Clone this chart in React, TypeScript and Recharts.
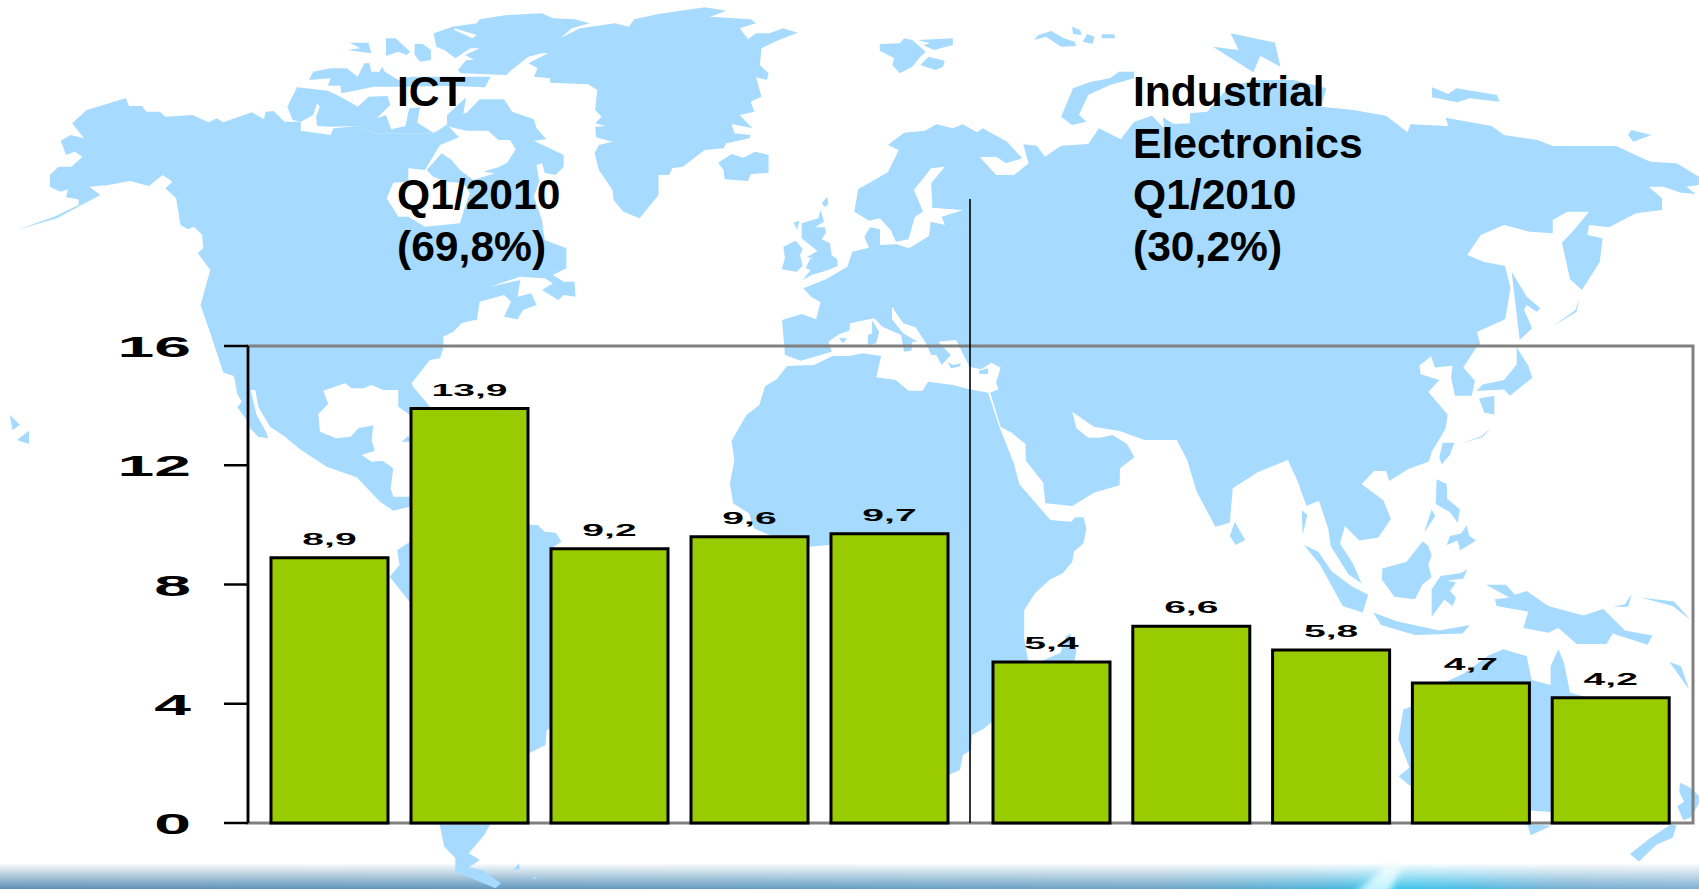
import { BarChart, Bar, XAxis, YAxis, LabelList } from 'recharts';

const ictLabels = ['I1', 'I2', 'I3', 'I4', 'I5'];
const ictValues = [8.9, 13.9, 9.2, 9.6, 9.7];
const industrialLabels = ['E1', 'E2', 'E3', 'E4', 'E5'];
const industrialValues = [5.4, 6.6, 5.8, 4.7, 4.2];
const yTicks = [0, 4, 8, 12, 16];
const ictTitle = ['ICT', '', 'Q1/2010', '(69,8%)'];
const industrialTitle = ['Industrial', 'Electronics', 'Q1/2010', '(30,2%)'];

const ictData = ictLabels.map((name, i) => ({ name, value: ictValues[i] }));
const industrialData = industrialLabels.map((name, i) => ({ name, value: industrialValues[i] }));

const LAND = '#a6dbff';
const FONT = '"Liberation Sans", Arial, sans-serif';

// backdrop map, traced by hand. each group has its own scale so the outlines stay readable
const northAmerica = [
  '30,690 105,655 185,585 165,560 195,555 210,520 190,558 240,543 275,558 300,525 318,545 305,565 325,595 333,675 347,688 358,680 373,705 375,745 365,760 388,810 370,915 385,985 835,985 850,965 880,960 885,905 930,885 943,905 930,950 955,958 965,930 990,915 980,880 955,890 960,840 905,860 960,830 1005,835 1020,850 1000,870 1030,900 1040,885 1062,890 1060,845 1040,845 1020,825 1045,805 1045,745 1005,720 1000,660 985,590 995,545 990,495 1000,490 1005,518 1025,525 1040,500 1040,465 985,422 1008,418 990,385 985,358 945,335 930,298 885,298 860,340 825,345 825,375 800,400 690,400 660,378 615,385 610,405 555,392 555,365 525,365 505,333 490,335 487,358 465,337 412,367 400,355 385,367 355,345 305,350 295,335 270,335 262,318 238,318 232,295 160,330 133,370 155,415 130,405 112,422 122,465 138,455 152,470 132,500 108,500 92,525 92,560 112,575 125,568 122,592 145,598 145,615 100,650',
  '800,100 835,80 880,70 885,58 935,45 1000,40 1020,55 1060,58 1088,70 1055,85 1030,120 1040,145 1020,160 1000,160 975,170 940,215 935,225 850,220 845,210 860,180 875,180 858,165 885,145 868,145 840,175 820,150 805,140',
  '645,128 680,128 685,160 640,150 665,145',
  '712,115 730,115 757,155 750,165 735,155 712,168',
  '765,132 780,132 795,150 795,180 775,185 765,165',
  '570,240 578,215 610,205 640,205 660,230 672,190 682,190 685,215 700,215 705,200 710,215 735,240 760,230 905,230 895,262 830,258 735,260 690,260 630,280 628,257 605,257 610,235',
  '530,320 548,262 605,272 628,290 645,305 660,320 680,290 715,288 720,315 695,355 712,345 722,388 748,378 755,325 775,322 770,368 800,398 825,375 825,345 860,292 855,340 800,400 690,400 660,378 610,380 585,378 583,350 590,320 585,310 578,345 555,365 540,360',
  '975,190 1005,165 1035,140 1020,125 1070,85 1135,70 1160,80 1170,58 1215,42 1300,22 1340,32 1310,50 1385,58 1395,70 1365,85 1380,118 1395,100 1420,100 1445,85 1472,98 1437,120 1405,145 1402,195 1418,220 1415,240 1395,232 1405,290 1385,305 1392,335 1365,345 1388,385 1350,372 1355,400 1385,405 1383,415 1340,430 1335,445 1300,450 1260,500 1240,505 1235,525 1215,525 1215,585 1180,655 1150,635 1132,600 1130,570 1105,510 1097,460 1105,435 1130,425 1100,412 1098,380 1118,378 1098,370 1110,350 1098,330 1102,270 1085,253 1015,248 1015,235 985,230 992,205',
  '1325,488 1350,462 1372,473 1393,455 1418,465 1418,518 1385,523 1380,543 1337,538 1335,510',
];
const arcticSlit = ['838,85 880,105 872,115 838,90'];
const hudsonBay = [
  '210,255 267,232 237,200 290,212 355,212 385,240 420,240 437,268 412,308 385,322 340,335 375,340 310,360 270,330 245,300 215,280 170,330 190,350 230,365 280,370 300,400 285,440 270,490 165,500 115,470 85,470 50,415 70,368 115,365 115,325 165,330',
];
const centralAmerica = [
  '318,0 370,158 402,168 412,222 425,245 412,262 440,300 450,325 475,350 505,355 498,335 470,285 452,210 466,210 475,260 510,320 555,350 600,388 680,440 770,472 840,545 880,572 930,560 930,530 880,530 872,505 880,445 848,422 815,425 785,405 825,392 815,362 820,316 775,325 752,350 708,355 660,335 655,282 685,252 670,212 735,190 755,205 790,205 815,195 850,210 895,210 895,260 930,285 945,265 990,260 940,200 935,190 990,120 1020,115 1030,85 1030,50 1060,35 1085,10 1120,0',
  '905,365 925,347 935,365',
];
const southAmerica = [
  '890,510 925,480 1100,432 1205,435 1220,455 1245,458 1258,485 1235,505 1235,1045 1225,1050 1222,1095 1185,1120 1085,1365 1050,1420 1075,1440 1050,1462 1080,1470 1122,1510 1110,1525 1020,1475 1020,1435 995,1400 985,1335 920,670 873,590 895,555',
  '1150,1470 1162,1450 1165,1468',
  '1190,1498 1200,1488 1203,1498',
  '22,105 45,135 28,150',
  '38,180 65,152 65,192',
];
const westEurope = [
  '130,325 198,298 262,260 277,215 327,203 313,170 330,142 360,148 360,195 410,193 447,205 507,168 512,125 555,135 545,110 610,90 517,82 520,0 900,0 900,365 180,365 155,352',
  '125,130 175,115 182,90 192,125 165,142 195,142 198,158 185,178 210,190 215,225 232,238 233,258 198,272 155,285 128,300 152,270 137,265 150,237 160,235 140,232 172,213 125,175',
  '70,200 107,182 128,207 120,225 128,257 110,275 65,268 75,235',
  '100,128 118,122 112,150',
  '185,70 202,50 205,72 195,82',
];
const africaEurope = [
  '210,198 275,195 320,168 360,168 392,160 437,168 425,232 472,240 503,272 537,272 550,245 610,255 650,268 695,278 722,380 757,490 770,552 845,660 895,665 905,652 925,652 932,685 925,730 902,755 898,785 875,820 845,838 808,880 782,930 782,1015 792,1085 704,1266 683,1287 656,1305 654,1350 634,1365 627,1410 600,1425 313,735 262,740 163,703 130,685 118,640 80,610 72,550 83,482 76,422 112,345 143,315 157,258 185,238',
  '825,1082 870,1058 882,1010 893,1000 908,1050 903,1085',
  '198,60 205,165 243,182 318,155 310,125 335,103 360,92 362,70 420,55 440,80 485,105 492,155 510,152 512,125 525,125 490,100 463,58 463,20 490,70 520,82 545,130 558,165 570,165 583,195 605,165 575,125 618,120 650,200 678,208 703,188 725,203 714,248 720,268 700,278 725,380 750,397 785,432 786,482 828,548 833,610 898,618 950,578 1012,556 1013,505 1048,472 1030,432 995,405 965,413 937,413 908,385 898,335 950,380 1012,393 1072,420 1150,420 1175,480 1198,575 1243,680 1278,668 1285,565 1345,517 1418,480 1442,545 1463,618 1568,560 1568,0 290,0 290,10 280,58 245,42',
  '415,60 432,95 425,130 405,135 405,105 415,100',
  '335,115 355,115 345,130',
  '597,185 610,195 630,190 625,200 605,205',
  '672,212 695,205 695,222 675,222',
  '1290,665 1315,720 1292,735 1278,708',
];
const eurasia = [
  '210,630 152,623 150,550 175,500 150,505 118,570 135,635 120,650 108,718 85,725 75,690 55,655 35,662 8,635 15,568 70,517 90,450 70,435 100,398 138,392 160,373 190,385 208,373 235,397 245,385 290,425 318,475 288,490 270,470 240,472 270,525 303,525 330,490 320,433 345,437 360,470 390,437 440,432 460,385 500,418 525,365 558,347 580,385 578,352 598,372 628,370 628,340 660,335 700,260 750,240 820,240 880,265 870,320 930,330 990,347 1030,397 1035,373 1105,378 1100,353 1185,378 1208,405 1270,420 1298,438 1415,438 1478,485 1527,490 1568,530 1568,555 1545,560 1562,582 1535,578 1502,560 1475,560 1500,595 1500,630 1452,640 1402,682 1365,675 1362,705 1390,715 1385,785 1352,870 1330,838 1315,728 1340,685 1365,635 1325,635 1298,660 1298,700 1255,695 1208,675 1165,705 1140,765 1170,785 1210,798 1220,865 1210,958 1158,995 1165,1040 831,1040 831,900 300,900',
  '55,132 92,130 100,115 115,120 140,155 130,170 115,200 92,220 78,195 82,175 55,152',
  '125,120 190,115 190,135 155,150 135,135 148,130',
  '130,195 145,170 175,182 172,200 158,210',
  '340,120 348,105 372,93 395,115 415,125 418,138 390,140 362,110',
  '410,80 425,90 428,105 412,102',
  '430,125 438,102 452,110 448,132',
  '465,103 488,103 490,115 465,115',
  '390,350 412,265 445,245 480,235 497,215 525,215 525,235 480,255 440,285 423,345 437,365 410,375',
  '670,140 718,150 703,100 785,128 795,200 758,168 745,217',
  '1075,262 1105,282 1120,265 1195,285 1200,305 1145,295 1122,307 1075,292',
  '1437,405 1443,390 1480,405 1447,425',
  '1222,815 1250,890 1275,925 1268,935 1250,915 1245,930 1260,985 1237,1020',
  '1297,980 1340,930 1347,895 1342,935',
];
const eastAsiaOceania = [
  '0,0 625,0 615,50 530,85 538,115 530,125 490,180 525,215 515,255 465,255 453,205 458,175 405,180 393,150 358,175 362,198 418,213 385,245 443,305 437,342 395,405 387,430 325,450 268,482 258,455 222,455 185,490 250,533 273,583 235,632 178,640 135,602 120,648 158,700 185,755 145,730 92,655 85,610 57,535 20,545 0,500',
  '12,652 55,670 95,722 155,762 205,785 188,832 128,815 60,705',
  '5,560 22,572 8,625',
  '220,832 290,855 418,880 510,865 488,888 345,892 243,865',
  '247,715 320,697 368,642 385,655 395,680 385,705 395,738 368,757 345,797 283,790 246,745',
  '395,770 422,735 483,727 502,717 490,742 440,747 468,752 450,775 468,792 458,815 433,798 395,843',
  '410,477 440,490 442,530 480,558 473,593 450,565 407,543',
  '372,620 395,558 406,575',
  '440,652 450,628 483,622 500,600 508,628 528,640 480,667 473,640',
  '428,380 463,380 450,412 425,438 418,420',
  '485,382 545,362 575,338 548,365',
  '650,125 685,175 697,207 630,255 612,238 530,242 548,225 612,213 650,172',
  '537,262 583,255 583,305 553,300',
  '558,758 618,758 645,785 680,775 745,815 850,840 910,823 975,880 1057,893 1043,918 938,888 920,916 830,916 775,873 745,886 670,873 685,830 590,815 585,797 628,792',
  '938,817 975,810 995,782 985,817',
  '1022,792 1122,803 1172,852 1118,815',
  '1108,963 1143,975 1168,1038',
  '296,1268 328,1245 295,1168 310,1090 340,1080 435,1018 490,995 568,945 610,930 680,948 695,1012 752,1025 752,975 775,930 792,965 810,1045 870,1060 1000,1100 1112,1385 700,1360 340,1295 325,1290',
  '682,1395 755,1400 692,1425',
  '1140,1285 1170,1298 1197,1320 1197,1340 1172,1378 1150,1385 1132,1348 1152,1335 1138,1310',
  '990,1475 1055,1430 1115,1395 1130,1400 1118,1432 1070,1450 1017,1495',
];

function Land({ shapes, transform, fill = LAND }: { shapes: string[]; transform: string; fill?: string }) {
  return (
    <g transform={transform} fill={fill}>
      {shapes.map((points, i) => (
        <polygon key={i} points={points} />
      ))}
    </g>
  );
}

function Backdrop() {
  return (
    <svg width={1699} height={889} style={{ position: 'absolute', left: 0, top: 0 }}>
      <defs>
        <linearGradient id="bandColor" x1="0" x2="1" y1="0" y2="0">
          <stop offset="0" stopColor="#5d8fb5" />
          <stop offset="0.5" stopColor="#659fc4" />
          <stop offset="0.68" stopColor="#6ea4c6" />
          <stop offset="0.78" stopColor="#4fb2da" />
          <stop offset="0.82" stopColor="#3cc6ec" />
          <stop offset="0.86" stopColor="#4cbde6" />
          <stop offset="0.92" stopColor="#74aed2" />
          <stop offset="1" stopColor="#7fb0d2" />
        </linearGradient>
        <linearGradient id="bandFade" x1="0" x2="0" y1="0" y2="1">
          <stop offset="0" stopColor="#ffffff" stopOpacity="1" />
          <stop offset="1" stopColor="#ffffff" stopOpacity="0" />
        </linearGradient>
        <filter id="soften" x="-30%" y="-30%" width="160%" height="160%">
          <feGaussianBlur stdDeviation="3" />
        </filter>
      </defs>
      <rect x={0} y={864} width={1699} height={25} fill="url(#bandColor)" />
      <polygon points="1353,895 1388,895 1402,866 1386,866" fill="#c4f3fc" filter="url(#soften)" />
      <rect x={0} y={863} width={1699} height={26} fill="url(#bandFade)" />
      <Land shapes={northAmerica} transform="scale(0.542,0.3333)" />
      <Land shapes={arcticSlit} transform="scale(0.542,0.3333)" fill="#ffffff" />
      <Land shapes={hudsonBay} transform="translate(370,60) scale(0.3333)" fill="#ffffff" />
      <Land shapes={centralAmerica} transform="translate(100,320) scale(0.3333)" />
      <Land shapes={southAmerica} transform="translate(0,380) scale(0.4464,0.3333)" />
      <Land shapes={westEurope} transform="translate(760,180) scale(0.3333)" />
      <Land shapes={africaEurope} transform="translate(700,300) scale(0.4146,0.3333)" />
      <Land shapes={eurasia} transform="translate(850,0) scale(0.5414,0.3333)" />
      <Land shapes={eastAsiaOceania} transform="translate(1300,300) scale(0.3333,0.3756)" />
      <rect x={248} y={346} width={1445} height={477} fill="none" stroke="#808080" strokeWidth={3} />
      <line x1={970} x2={970} y1={199} y2={823} stroke="#000000" strokeWidth={1.6} />
    </svg>
  );
}

function Titles() {
  const lineY = [106, 158, 209, 261];
  return (
    <svg width={1699} height={889} style={{ position: 'absolute', left: 0, top: 0, pointerEvents: 'none' }}>
      <g fontFamily={FONT} fontWeight="bold" fontSize={42.6} fill="#000000">
        {ictTitle.map((line, i) => (
          <text key={i} x={397} y={lineY[i]}>{line}</text>
        ))}
        {industrialTitle.map((line, i) => (
          <text key={i} x={1133} y={lineY[i]}>{line}</text>
        ))}
      </g>
    </svg>
  );
}

// tick numbers in the slide are stretched sideways, so they get a horizontal scale
const StretchedTick = ({ x, y, payload }: any) => (
  <text
    transform={`translate(${x},${y + 11}) scale(2.2,1)`}
    textAnchor="end"
    fontFamily={FONT}
    fontWeight="bold"
    fontSize={30}
    fill="#000000"
  >
    {payload.value}
  </text>
);

const ValueLabel = ({ x, y, width, value }: any) => (
  <text
    transform={`translate(${x + width / 2},${y - 13}) scale(2.3,1)`}
    textAnchor="middle"
    fontFamily={FONT}
    fontWeight="bold"
    fontSize={17}
    fill="#000000"
  >
    {String(value).replace('.', ',')}
  </text>
);

export default function App() {
  return (
    <div style={{ position: 'absolute', left: 0, top: 0, width: 1699, height: 889, overflow: 'hidden', background: '#ffffff' }}>
      <Backdrop />
      <div style={{ position: 'absolute', left: 0, top: 0 }}>
        <BarChart width={970} height={889} data={ictData} margin={{ top: 346, right: 0, bottom: 66, left: 0 }}>
          <XAxis dataKey="name" hide padding={{ left: 11, right: 11 }} />
          <YAxis
            width={248}
            domain={[0, 16]}
            ticks={yTicks}
            interval={0}
            tickSize={24}
            tickMargin={33}
            axisLine={{ stroke: '#000000', strokeWidth: 2.5 }}
            tickLine={{ stroke: '#000000', strokeWidth: 2.5 }}
            tick={<StretchedTick />}
          />
          <Bar dataKey="value" barSize={117} fill="#99cc00" stroke="#000000" strokeWidth={3} isAnimationActive={false}>
            <LabelList dataKey="value" content={<ValueLabel />} />
          </Bar>
        </BarChart>
      </div>
      <div style={{ position: 'absolute', left: 970, top: 0 }}>
        <BarChart width={729} height={889} data={industrialData} margin={{ top: 346, right: 6, bottom: 66, left: 0 }}>
          <XAxis dataKey="name" hide padding={{ left: 12, right: 12 }} />
          <YAxis hide domain={[0, 16]} />
          <Bar dataKey="value" barSize={117} fill="#99cc00" stroke="#000000" strokeWidth={3} isAnimationActive={false}>
            <LabelList dataKey="value" content={<ValueLabel />} />
          </Bar>
        </BarChart>
      </div>
      <Titles />
    </div>
  );
}
